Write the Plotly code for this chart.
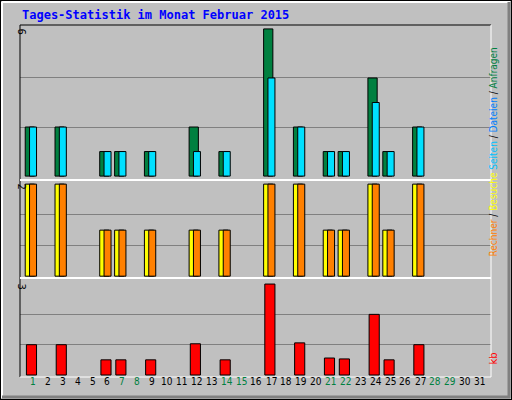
import plotly.graph_objects as go

days = list(range(1, 32))
anfragen = {1:2,3:2,6:1,7:1,9:1,12:2,14:1,17:6,19:2,21:1,22:1,24:4,25:1,27:2}
dateien = {1:2,3:2,6:1,7:1,9:1,12:1,14:1,17:4,19:2,21:1,22:1,24:3,25:1,27:2}
besuche = {1:2,3:2,6:1,7:1,9:1,12:1,14:1,17:2,19:2,21:1,22:1,24:2,25:1,27:2}
rechner = {1:2,3:2,6:1,7:1,9:1,12:1,14:1,17:2,19:2,21:1,22:1,24:2,25:1,27:2}
kb = {1:1.0,3:1.0,6:0.5,7:0.5,9:0.5,12:1.03,14:0.5,17:3.0,19:1.06,21:0.56,22:0.53,24:2.0,25:0.5,27:1.0}
weekend = [1,7,8,14,15,21,22,28,29]

def xs(d): return list(d.keys())
def ys(d): return list(d.values())

fig = go.Figure()
ln = dict(color="black", width=1)
fig.add_bar(x=xs(anfragen), y=ys(anfragen), width=0.62, offset=-0.52, marker=dict(color="#008040", line=ln), xaxis="x", yaxis="y")
fig.add_bar(x=xs(dateien), y=ys(dateien), width=0.47, offset=-0.23, marker=dict(color="#00e0ff", line=ln), xaxis="x", yaxis="y")
fig.add_bar(x=xs(besuche), y=ys(besuche), width=0.62, offset=-0.52, marker=dict(color="#ffff00", line=ln), xaxis="x", yaxis="y2")
fig.add_bar(x=xs(rechner), y=ys(rechner), width=0.47, offset=-0.23, marker=dict(color="#ff8000", line=ln), xaxis="x", yaxis="y2")
fig.add_bar(x=xs(kb), y=ys(kb), width=0.68, offset=-0.44, marker=dict(color="#ff0000", line=ln), xaxis="x", yaxis="y3")

xr = [0.13, 31.74]
xd = [20/512, 491/512]
ax = dict(range=xr, domain=xd, showgrid=False, zeroline=False, showticklabels=False, ticks="")
grid = dict(showgrid=True, gridcolor="#808080", gridwidth=1, zeroline=False, showticklabels=False, ticks="", anchor="x")
fig.update_layout(
    width=512, height=400, margin=dict(l=0, r=0, t=0, b=0),
    paper_bgcolor="#c0c0c0", plot_bgcolor="#c0c0c0", showlegend=False, barmode="overlay",
    xaxis=ax,
    yaxis=dict(range=[-0.16, 6.16], domain=[0.55, 0.9375], tickvals=[2, 4], **grid),
    yaxis2=dict(range=[-0.04, 2.09], domain=[0.305, 0.55], tickvals=[2/3, 4/3], **grid),
    yaxis3=dict(range=[-0.066, 3.2], domain=[0.0575, 0.305], tickvals=[1, 2], **grid),
)

mono = "DejaVu Sans Mono"
anns = [dict(text="<b>Tages-Statistik im Monat Februar 2015</b>", x=20, y=15, xref="paper", yref="paper",
             showarrow=False, font=dict(family=mono, size=12, color="#0000ff"), xanchor="left", yanchor="middle")]
for d in days:
    anns.append(dict(text=str(d), x=d, y=389, xref="x", yref="paper", showarrow=False,
                     font=dict(family="DejaVu Sans Condensed", size=10, color="#008040" if d in weekend else "black")))
for t, yy in [("6", 31), ("2", 186), ("3", 286)]:
    anns.append(dict(text=t, x=14, y=yy, xref="paper", yref="paper", showarrow=False, textangle=90,
                     font=dict(family="DejaVu Sans", size=10, color="black"), yanchor="middle"))
right = ('<span style="color:#ff8000">Rechner</span> / <span style="color:#ffff00">Besuche</span> '
         '<span style="color:#00c0ff">Seiten</span> / <span style="color:#0080ff">Dateien</span> / '
         '<span style="color:#008040">Anfragen</span>')
anns.append(dict(text=right, x=500, y=152, xref="paper", yref="paper", showarrow=False, textangle=-90,
                 font=dict(family="DejaVu Sans Condensed", size=10, color="black")))
anns.append(dict(text="kb", x=500, y=367, xref="paper", yref="paper", showarrow=False, textangle=-90,
                 font=dict(family="DejaVu Sans", size=10, color="#ff0000")))
for a in anns:
    if a["xref"] == "paper":
        a["x"] = a["x"] / 512
    a["y"] = 1 - a["y"] / 400
fig.update_layout(annotations=anns)

def px(x0, y0, x1, y1, color, w=1):
    return dict(type="line", xref="paper", yref="paper", x0=x0/512, x1=x1/512, y0=1-y0/400, y1=1-y1/400,
                line=dict(color=color, width=w))
shapes = [
    dict(type="rect", xref="paper", yref="paper", x0=0, x1=1, y0=0, y1=1, line=dict(color="black", width=2)),
    px(2, 2, 510, 2, "white", 2), px(2, 2, 2, 398, "white", 2),
    px(2, 397, 510, 397, "#808080", 3), px(509, 2, 509, 398, "#808080", 3),
    px(20, 25, 491, 25, "black"), px(20, 25, 20, 377, "black"),
    px(491, 25, 491, 377, "white"), px(20, 377, 491, 377, "white"),
    px(20, 180, 491, 180, "white", 2), px(20, 278, 491, 278, "white", 2),
]
fig.update_layout(shapes=shapes)
fig.write_html("out.html", config={"displayModeBar": False},
               post_script="document.body.style.margin='0';document.body.style.overflow='hidden';window.dispatchEvent(new Event('resize'));")
